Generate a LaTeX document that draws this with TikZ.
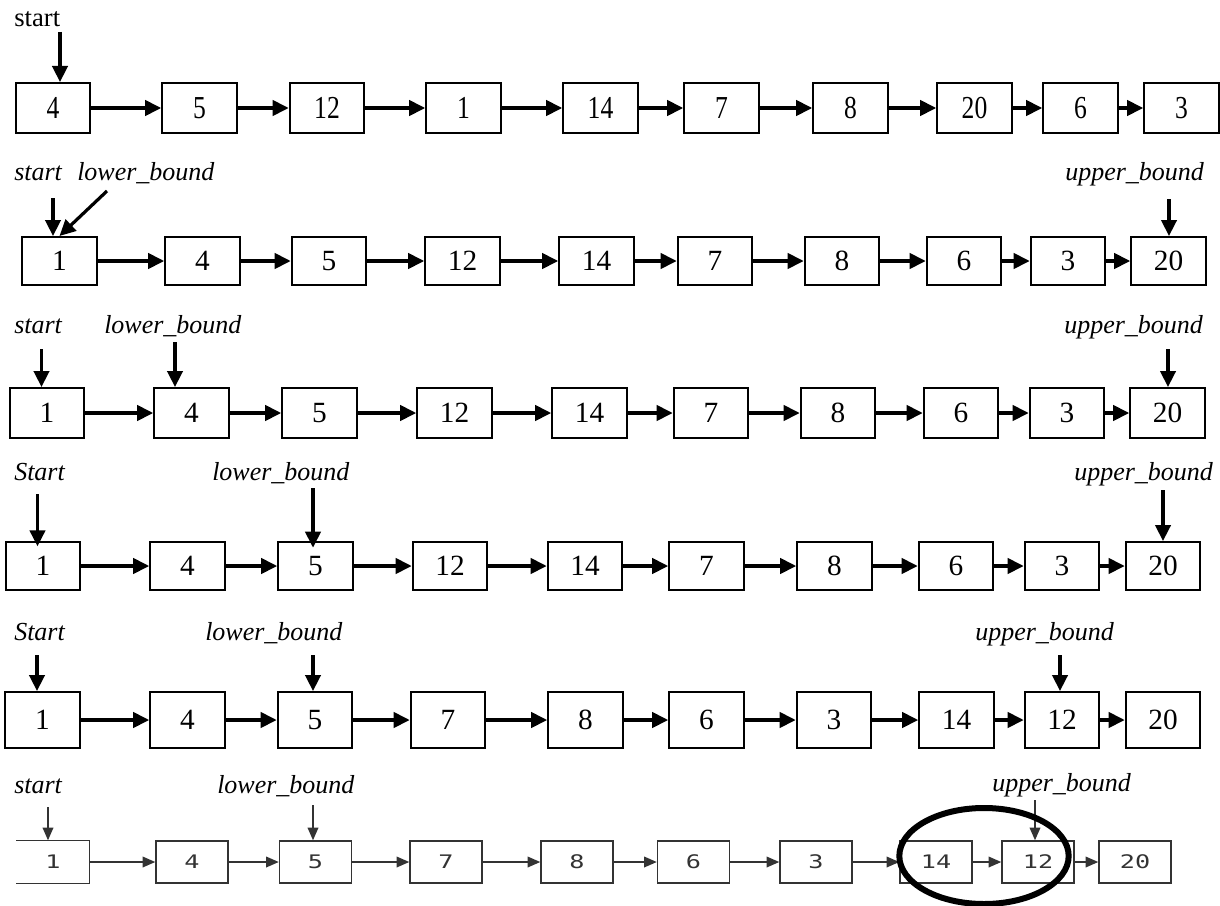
\documentclass[tikz,border=0pt]{standalone}
\usepackage{fontspec}
\setmainfont{Liberation Serif}
\newfontfamily\narrowserif[FakeStretch=0.8]{Liberation Serif}
\newfontfamily\pixfont[FakeStretch=1.35]{DejaVu Sans Mono}
\usetikzlibrary{arrows.meta}
\definecolor{Ink}{HTML}{000000}
\definecolor{Smudge}{HTML}{333333}

\begin{document}
\begin{tikzpicture}[x=0.75pt,y=-0.75pt,cell/.style={draw=Ink,line width=1.5pt,minimum width=56pt,minimum height=36pt,inner sep=0pt,font=\fontsize{22}{22}\selectfont},link/.style={draw=Ink,line width=2.4pt,-{Triangle[length=12pt,width=11.5pt]}},tag/.style={inner sep=0pt,anchor=base west,font=\fontsize{19.5}{20}\selectfont\itshape},pixcell/.style={draw=Smudge,line width=1.1pt,minimum width=54pt,minimum height=31.5pt,inner sep=0pt,text=Smudge,font=\pixfont\fontsize{14}{14}\selectfont},pixlink/.style={draw=Smudge,line width=1.1pt,-{Triangle[length=9.5pt,width=8pt]}}]
\fill[white] (0,0) rectangle (1220,906);
\useasboundingbox (0,0) rectangle (1220,906);

\foreach \v/\cx [count=\i] in {4/53,5/199.5,12/327,1/463.5,14/600.5,7/721.5,8/850.5,20/974.5,6/1080.5,3/1181.5}
  \node[cell,minimum height=37.5pt,font=\narrowserif\fontsize{24}{24}\selectfont] (r1c\i) at (\cx,108) {\v};
\foreach \i [evaluate=\i as \j using int(\i+1)] in {1,...,9} \draw[link] (r1c\i) -- (r1c\j);
\node[tag,font=\fontsize{20}{20}\selectfont] (s1) at (14,27) {start};
\coordinate (p1) at (60,32);\draw[link] (p1) -- (p1 |- r1c1.north);

\foreach \v/\cx [count=\i] in {1/59.5,4/202.5,5/329,12/462.5,14/596.5,7/715,8/842,6/964,3/1068,20/1168.5}
  \node[cell] (r2c\i) at (\cx,261) {\v};
\foreach \i [evaluate=\i as \j using int(\i+1)] in {1,...,9} \draw[link] (r2c\i) -- (r2c\j);
\node[tag] (s2) at (14,180) {start};\node[tag] (lo2) at (77,180) {lower\_bound};\node[tag] (up2) at (1065,180) {upper\_bound};
\coordinate (p2) at (53,198);\coordinate (q2) at (107,191);\coordinate (u2) at (1169,199);
\draw[link] (p2) -- (p2 |- r2c1.north);\draw[link] (q2) -- (r2c1.north);\draw[link] (u2) -- (u2 |- r2c10.north);

\foreach \v/\cx [count=\i] in {1/47,4/191.5,5/319.5,12/454.5,14/589.5,7/711,8/838,6/961,3/1067,20/1167.5}
  \node[cell,minimum height=37.5pt] (r3c\i) at (\cx,413) {\v};
\foreach \i [evaluate=\i as \j using int(\i+1)] in {1,...,9} \draw[link] (r3c\i) -- (r3c\j);
\node[tag] (s3) at (14,333) {start};\node[tag] (lo3) at (104,333) {lower\_bound};\node[tag] (up3) at (1064,333) {upper\_bound};
\coordinate (p3) at (41.5,349);\coordinate (q3) at (175,342);\coordinate (u3) at (1168,349);
\draw[link] (p3) -- (p3 |- r3c1.north);\draw[link] (q3) -- (q3 |- r3c2.north);\draw[link] (u3) -- (u3 |- r3c10.north);

\foreach \v/\cx [count=\i] in {1/43,4/187.5,5/315.5,12/450,14/585,7/706.5,8/834.5,6/956,3/1062,20/1163}
  \node[cell] (r4c\i) at (\cx,566) {\v};
\foreach \i [evaluate=\i as \j using int(\i+1)] in {1,...,9} \draw[link] (r4c\i) -- (r4c\j);
\node[tag] (s4) at (14,480) {Start};\node[tag] (lo4) at (212,480) {lower\_bound};\node[tag] (up4) at (1074,480) {upper\_bound};
\coordinate (p4) at (37.5,494);\coordinate (q4) at (313,488);\coordinate (u4) at (1163,490);
\draw[link,shorten >=-4pt] (p4) -- (p4 |- r4c1.north);\draw[link,shorten >=-5pt] (q4) -- (q4 |- r4c3.north);\draw[link] (u4) -- (u4 |- r4c10.north);

\foreach \v/\cx [count=\i] in {1/42.5,4/187.5,5/315,7/448,8/585.5,6/706.5,3/834,14/956.5,12/1062,20/1163}
  \node[cell,minimum height=42pt] (r5c\i) at (\cx,720) {\v};
\foreach \i [evaluate=\i as \j using int(\i+1)] in {1,...,9} \draw[link] (r5c\i) -- (r5c\j);
\node[tag] (s5) at (14,640) {Start};\node[tag] (lo5) at (205,640) {lower\_bound};\node[tag] (up5) at (975,640) {upper\_bound};
\coordinate (p5) at (37,655);\coordinate (q5) at (313,655);\coordinate (u5) at (1060,655);
\draw[link] (p5) -- (p5 |- r5c1.north);\draw[link] (q5) -- (q5 |- r5c3.north);\draw[link] (u5) -- (u5 |- r5c9.north);

\node[pixcell,draw=none] (r6c1) at (53,862) {1};
\draw[Smudge,line width=1.1pt] (r6c1.north west) -- (r6c1.north east) -- (r6c1.south east) -- (r6c1.south west);
\foreach \v/\cx [count=\i from 2] in {4/192,5/315.5,7/446,8/577,6/693.5,3/816,14/936,12/1038,20/1135}
  \node[pixcell] (r6c\i) at (\cx,862) {\v};
\foreach \i [evaluate=\i as \j using int(\i+1)] in {1,...,9} \draw[pixlink] (r6c\i) -- (r6c\j);
\node[tag] (s6) at (14,793) {start};\node[tag] (lo6) at (217,793) {lower\_bound};\node[tag] (up6) at (992,791) {upper\_bound};
\coordinate (p6) at (48,807);\coordinate (q6) at (313,805);\coordinate (u6) at (1035,800);
\draw[pixlink] (p6) -- (p6 |- r6c1.north);\draw[pixlink] (q6) -- (q6 |- r6c3.north);\draw[pixlink] (u6) -- (u6 |- r6c9.north);
\draw[line width=4.5pt] (984,856) ellipse [x radius=63.5pt,y radius=36pt];
\end{tikzpicture}
\end{document}
